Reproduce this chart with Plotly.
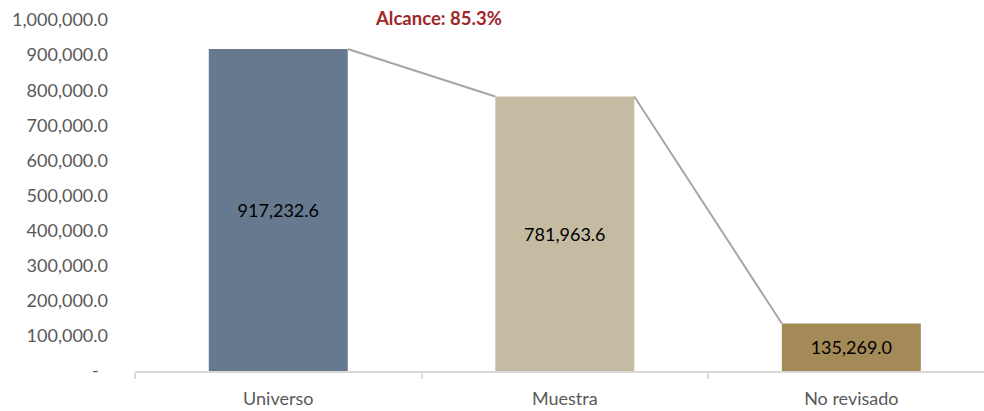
import plotly.graph_objects as go

categories = ["Universo", "Muestra", "No revisado"]
values = [917232.6, 781963.6, 135269.0]
y_tick_values = [0, 100000, 200000, 300000, 400000, 500000, 600000, 700000, 800000, 900000, 1000000]

bar_colors = ["#66798F", "#C4BBA2", "#A38A57"]
FONT = "Lato"
half_w = 0.2425

y_tick_text = ["-\u00a0\u00a0"] + [f"{v:,.1f}" for v in y_tick_values[1:]]
x_pos = list(range(len(categories)))
alcance = values[1] / values[0] * 100

fig = go.Figure()
fig.add_trace(go.Bar(
    x=x_pos, y=values, width=2 * half_w,
    marker=dict(color=bar_colors, line=dict(width=0)),
    texttemplate="%{y:,.1f}", textposition="inside", insidetextanchor="middle",
    constraintext="none",
    textfont=dict(family=FONT, size=18, color="#000000"),
    hoverinfo="skip",
))

shapes = []
for i in range(len(values) - 1):
    shapes.append(dict(type="line", xref="x", yref="y",
                       x0=x_pos[i] + half_w, y0=values[i],
                       x1=x_pos[i + 1] - half_w, y1=values[i + 1],
                       line=dict(color="#A6A6A6", width=2)))

fig.update_layout(
    width=984, height=411,
    margin=dict(l=135, r=0, t=20, b=40, autoexpand=False),
    plot_bgcolor="white", paper_bgcolor="white",
    showlegend=False,
    shapes=shapes,
    annotations=[dict(text=f"<b>Alcance: {alcance:.1f}%</b>", xref="x", yref="paper",
                      x=0.56, y=1.005, yanchor="middle", xanchor="center", showarrow=False,
                      font=dict(family=FONT, size=18.5, color="#A0282A"))],
    xaxis=dict(range=[-0.5, 2.463], tickvals=x_pos, ticktext=categories,
               ticks="", showgrid=False, zeroline=False, automargin=False,
               showline=True, linecolor="#D9D9D9", linewidth=2,
               ticklabelstandoff=10,
               tickfont=dict(family=FONT, size=18, color="#595959"),
               minor=dict(tickvals=[-0.5, 0.5, 1.5], ticks="outside", ticklen=6,
                          tickcolor="#D9D9D9", tickwidth=2, showgrid=False)),
    yaxis=dict(range=[0, 1000000], tickvals=y_tick_values, ticktext=y_tick_text,
               showgrid=False, zeroline=False, showline=False, ticks="", automargin=False,
               ticklabelstandoff=26,
               tickfont=dict(family=FONT, size=18, color="#595959")),
)

fig.write_html("out.html", config={"displayModeBar": False},
               post_script="document.body.style.margin='0';document.body.style.overflow='hidden';")
